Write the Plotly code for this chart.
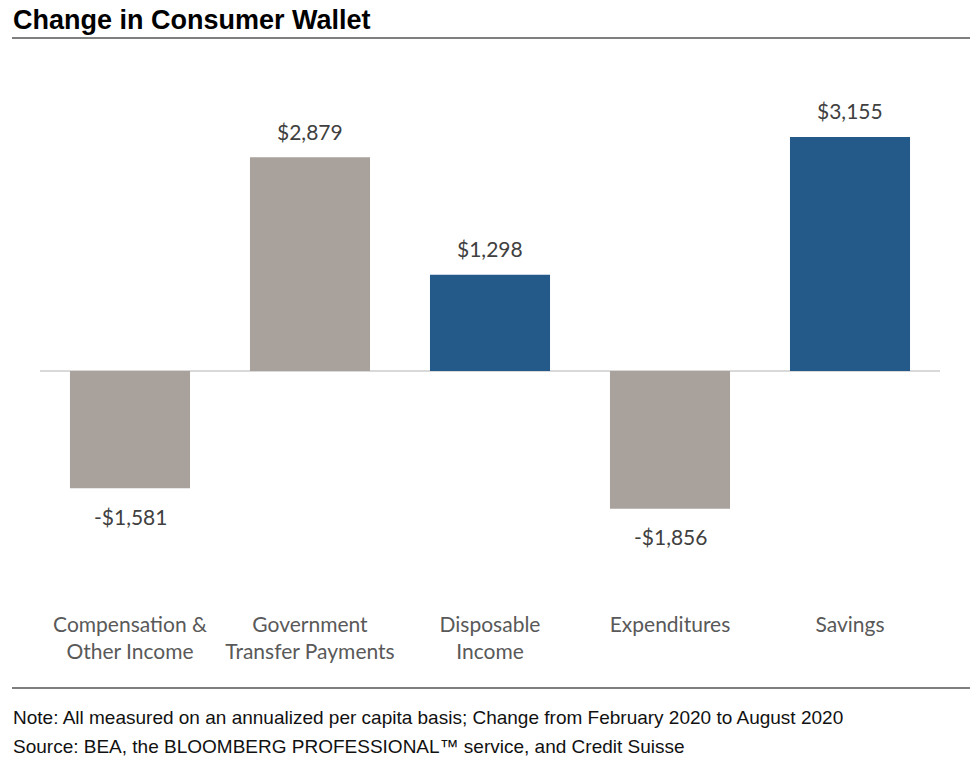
import plotly.graph_objects as go

categories = ["Compensation &<br>Other Income", "Government<br>Transfer Payments",
              "Disposable<br>Income", "Expenditures", "Savings"]
values = [-1581, 2879, 1298, -1856, 3155]
labels = ["-$1,581", "$2,879", "$1,298", "-$1,856", "$3,155"]
bar_colors = ["#A9A29C", "#A9A29C", "#245A8A", "#A9A29C", "#245A8A"]

W, H = 977, 766
L, R, T, B = 40, 37, 60, 166
plot_w = W - L - R
plot_h = H - T - B

def px_x(x):
    return (x - L) / plot_w

def px_y(y):
    return (H - B - y) / plot_h

fig = go.Figure(go.Bar(
    x=categories, y=values, marker_color=bar_colors, marker_line_width=0,
))

value_annotations = [
    dict(text=lab, x=cat, y=val, xref="x", yref="y", showarrow=False,
         yanchor="middle", yshift=26 if val >= 0 else -28,
         font=dict(family="Lato", size=21, color="#404040"))
    for cat, val, lab in zip(categories, values, labels)
]

fig.update_layout(
    width=W, height=H, margin=dict(l=L, r=R, t=T, b=B),
    paper_bgcolor="white", plot_bgcolor="white",
    bargap=0.333, showlegend=False,
    xaxis=dict(showgrid=False, showline=False, ticks="", ticklabelstandoff=10,
               tickfont=dict(family="Lato", size=21, color="#595959")),
    yaxis=dict(range=[-3086, 4191], visible=True, showticklabels=False, showgrid=False,
               zeroline=True, zerolinecolor="#D9D9D9", zerolinewidth=2, fixedrange=True),
    shapes=[
        dict(type="line", xref="paper", yref="paper", x0=px_x(12), x1=px_x(970),
             y0=px_y(38), y1=px_y(38), line=dict(color="black", width=1.2)),
        dict(type="line", xref="paper", yref="paper", x0=px_x(12), x1=px_x(970),
             y0=px_y(688), y1=px_y(688), line=dict(color="black", width=1.2)),
    ],
    annotations=value_annotations + [
        dict(text="<b>Change in Consumer Wallet</b>", xref="paper", yref="paper",
             x=px_x(11), y=px_y(20), xanchor="left", yanchor="middle", showarrow=False,
             font=dict(family="Liberation Sans", size=27, color="black")),
        dict(text="Note: All measured on an annualized per capita basis; Change from February 2020 to August 2020",
             xref="paper", yref="paper", x=px_x(11), y=px_y(717), xanchor="left", yanchor="middle",
             showarrow=False, font=dict(family="Liberation Sans", size=19, color="#111111")),
        dict(text="Source: BEA, the BLOOMBERG PROFESSIONAL™ service, and Credit Suisse",
             xref="paper", yref="paper", x=px_x(11), y=px_y(746), xanchor="left", yanchor="middle",
             showarrow=False, font=dict(family="Liberation Sans", size=19, color="#111111")),
    ],
)

fig.write_html("out.html")
